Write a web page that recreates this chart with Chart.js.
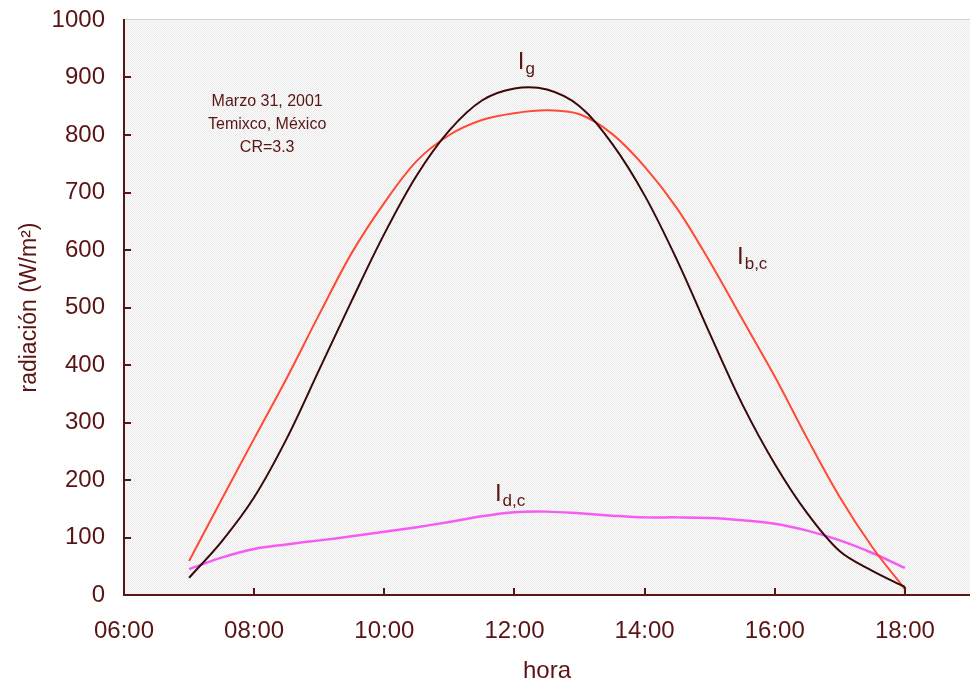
<!DOCTYPE html>
<html lang="es">
<head>
    <meta charset="UTF-8">
    <title>Radiación - Temixco</title>
    <style>
        * { margin: 0; padding: 0; box-sizing: border-box; }
        body { width: 970px; height: 688px; background: #ffffff; overflow: hidden; }
        .container { position: relative; width: 970px; height: 688px; }
        #radiacion { display: block; }
    </style>
</head>
<body>
    <div class="container">
        <canvas id="radiacion" width="970" height="688"></canvas>
    </div>
    <script src="https://cdn.jsdelivr.net/npm/chart.js@4/dist/chart.umd.min.js"></script>
    <script>
        // horas del día (decimal) y mediciones cada media hora
        const horas = [7, 7.5, 8, 8.5, 9, 9.5, 10, 10.5, 11, 11.5, 12, 12.5, 13, 13.5, 14, 14.5, 15, 15.5, 16, 16.5, 17, 17.5, 18];
        const ig  = [30, 93, 170, 272, 392, 512, 628, 730, 808, 860, 881, 879, 850, 785, 695, 582, 455, 332, 228, 142, 76, 42, 14];
        const igCierre = 2; // lectura final a las 18:00
        const ibc = [59, 166, 272, 377, 488, 595, 682, 755, 800, 826, 838, 843, 836, 802, 745, 672, 580, 480, 380, 272, 170, 83, 10];
        const idc = [45, 65, 80, 88, 95, 102, 110, 118, 127, 137, 144, 145, 142, 138, 135, 135, 134, 130, 124, 112, 95, 73, 47];
        const notas = ["Marzo 31, 2001", "Temixco, México", "CR=3.3"];

        const colorTexto = "#5a1414";
        const colorIg = "#3a0808";
        const fuente = "'Liberation Sans', Arial, sans-serif";

        const puntos = (xs, ys) => ys.map((y, i) => ({ x: xs[i], y: y }));

        // fondo punteado del área de trazado
        const patron = (() => {
            const c = document.createElement("canvas");
            c.width = 2; c.height = 2;
            const g = c.getContext("2d");
            g.fillStyle = "#fcfcfc"; g.fillRect(0, 0, 2, 2);
            g.fillStyle = "#eaeaea"; g.fillRect(0, 0, 1, 1); g.fillRect(1, 1, 1, 1);
            return g.createPattern(c, "repeat");
        })();

        const fondo = {
            id: "fondo",
            beforeDraw(chart) {
                const { ctx, chartArea: a } = chart;
                ctx.save();
                ctx.fillStyle = patron;
                ctx.fillRect(a.left, a.top, a.right - a.left, a.bottom - a.top);
                ctx.strokeStyle = "#d2d2d2";
                ctx.lineWidth = 1;
                ctx.beginPath();
                ctx.moveTo(a.left, a.top - 0.5);
                ctx.lineTo(a.right, a.top - 0.5);
                ctx.stroke();
                ctx.restore();
            }
        };

        // marcas hacia dentro y rótulos de las curvas
        const rotulos = {
            id: "rotulos",
            afterDraw(chart) {
                const { ctx, chartArea: a, scales: { x, y } } = chart;
                ctx.save();
                ctx.strokeStyle = colorTexto;
                ctx.lineWidth = 2;
                ctx.beginPath();
                for (let v = 100; v < 1000; v += 100) {
                    const py = Math.round(y.getPixelForValue(v));
                    ctx.moveTo(a.left, py);
                    ctx.lineTo(a.left + 7, py);
                }
                for (let h = 8; h <= 18; h += 2) {
                    const px = Math.round(x.getPixelForValue(h));
                    ctx.moveTo(px, a.bottom);
                    ctx.lineTo(px, a.bottom - 7);
                }
                ctx.stroke();

                ctx.fillStyle = colorTexto;
                ctx.textAlign = "center";
                ctx.textBaseline = "alphabetic";
                ctx.font = "16px " + fuente;
                notas.forEach((t, i) => {
                    ctx.fillText(t, x.getPixelForValue(8.2), y.getPixelForValue(851) + i * 23);
                });

                const etiqueta = (sub, h, v) => {
                    const px = x.getPixelForValue(h);
                    const py = y.getPixelForValue(v);
                    ctx.textAlign = "left";
                    ctx.font = "24px " + fuente;
                    ctx.fillText("I", px, py);
                    const w = ctx.measureText("I").width;
                    ctx.font = "17px " + fuente;
                    ctx.fillText(sub, px + w + 1, py + 5);
                };
                etiqueta("g", 12.05, 915);
                etiqueta("b,c", 15.42, 576);
                etiqueta("d,c", 11.7, 163);
                ctx.restore();
            }
        };

        const serie = (label, data, color, ancho) => ({
            label, data, borderColor: color, borderWidth: ancho, tension: 0.35
        });

        new Chart(document.getElementById("radiacion"), {
            type: "scatter",
            plugins: [fondo, rotulos],
            data: {
                datasets: [
                    serie("Ig", puntos(horas, ig), colorIg, 2),
                    serie("Ig cierre", [{ x: 18, y: ig[ig.length - 1] }, { x: 18, y: igCierre }], colorIg, 2),
                    serie("Ib,c", puntos(horas, ibc), "#ff4a36", 2),
                    serie("Id,c", puntos(horas, idc), "#f45cf4", 2.5)
                ]
            },
            options: {
                responsive: false,
                animation: false,
                showLine: true,
                elements: {
                    point: { radius: 0, hoverRadius: 0 },
                    line: { fill: false }
                },
                layout: { padding: { top: 20, right: 0, left: 0, bottom: 0 } },
                plugins: { legend: { display: false }, tooltip: { enabled: false } },
                scales: {
                    x: {
                        type: "linear",
                        min: 6,
                        max: 19,
                        afterFit: (s) => { s.height = 93; },
                        grid: { display: false, drawTicks: false },
                        border: { display: true, color: colorTexto, width: 2 },
                        ticks: {
                            stepSize: 2,
                            includeBounds: false,
                            padding: 22,
                            color: colorTexto,
                            font: { family: fuente, size: 24 },
                            callback: (v) => String(v).padStart(2, "0") + ":00"
                        },
                        title: {
                            display: true,
                            text: "hora",
                            color: colorTexto,
                            font: { family: fuente, size: 24 },
                            padding: { top: 0, bottom: 2 }
                        }
                    },
                    y: {
                        min: 0,
                        max: 1000,
                        afterFit: (s) => {
                            s.width = 124;
                            s.paddingTop = 0;
                            s.paddingBottom = 0;
                        },
                        grid: { display: false, drawTicks: false },
                        border: { display: true, color: colorTexto, width: 2 },
                        ticks: {
                            stepSize: 100,
                            padding: 19,
                            color: colorTexto,
                            font: { family: fuente, size: 24 },
                            callback: (v) => String(v)
                        },
                        title: {
                            display: true,
                            text: "radiación (W/m²)",
                            color: colorTexto,
                            font: { family: fuente, size: 23 },
                            padding: { top: 16, bottom: 0 }
                        }
                    }
                }
            }
        });
    </script>
</body>
</html>
